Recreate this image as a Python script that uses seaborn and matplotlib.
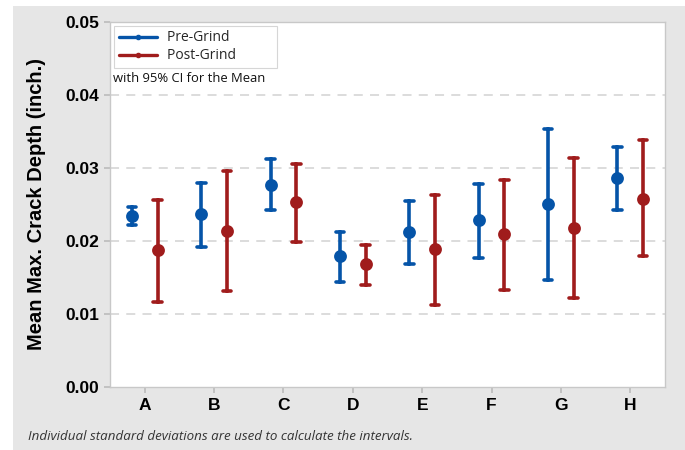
import matplotlib
matplotlib.use("Agg")
import matplotlib.pyplot as plt
from matplotlib.lines import Line2D
from matplotlib.patches import Rectangle
import seaborn as sns
import pandas as pd

categories = ["A", "B", "C", "D", "E", "F", "G", "H"]
pre_mean = [0.0234, 0.0237, 0.0277, 0.0179, 0.0213, 0.0229, 0.0251, 0.0286]
pre_low = [0.0222, 0.0192, 0.0243, 0.0144, 0.0169, 0.0177, 0.0146, 0.0242]
pre_high = [0.0246, 0.0279, 0.0312, 0.0212, 0.0255, 0.0278, 0.0353, 0.0329]
post_mean = [0.0188, 0.0214, 0.0254, 0.0168, 0.0189, 0.0209, 0.0218, 0.0258]
post_low = [0.0117, 0.0131, 0.0198, 0.0140, 0.0113, 0.0133, 0.0122, 0.0179]
post_high = [0.0256, 0.0296, 0.0306, 0.0195, 0.0263, 0.0284, 0.0314, 0.0338]
groups = ["Pre-Grind", "Post-Grind"]
yticks = [0.00, 0.01, 0.02, 0.03, 0.04, 0.05]

blue = "#0554a8"
red = "#a01c1c"

rows = []
for i, c in enumerate(categories):
    for v in (pre_low[i], pre_mean[i], pre_high[i]):
        rows.append({"cat": c, "grp": groups[0], "val": v})
    for v in (post_low[i], post_mean[i], post_high[i]):
        rows.append({"cat": c, "grp": groups[1], "val": v})
df = pd.DataFrame(rows)

sns.set_theme(style="white")
plt.rcParams["font.family"] = ["Liberation Sans", "DejaVu Sans"]

fig = plt.figure(figsize=(6.85, 4.5), dpi=100, facecolor="white")
fig.patches.append(Rectangle((13 / 685, 0), 1 - 13 / 685, 444 / 450,
                             transform=fig.transFigure, facecolor="#e6e6e6",
                             edgecolor="none", zorder=-10))
ax = fig.add_axes([110 / 685, 1 - 387 / 450, 555 / 685, 365 / 450])
ax.set_facecolor("white")

sns.pointplot(data=df, x="cat", y="val", hue="grp", order=categories,
              hue_order=groups, palette=[blue, red], estimator="median",
              errorbar=("pi", 100), dodge=0.37, linestyle="none",
              markers="o", markersize=7.2, err_kws={"linewidth": 2.6},
              capsize=0.125, legend=False, ax=ax)

ax.set_xlim(-0.5, 7.5)
ax.set_ylim(0, 0.05)
ax.set_yticks(yticks)
ax.set_yticklabels([f"{t:.2f}" for t in yticks])
for t in yticks[1:]:
    ax.axhline(t, color="#d9d9d9", linestyle=(0, (5, 4)), linewidth=1.3, zorder=0)
ax.set_xlabel("")
ax.set_ylabel("Mean Max. Crack Depth (inch.)", fontsize=14.5, fontweight="bold",
              color="black", labelpad=14)
ax.tick_params(axis="both", labelsize=12.5, length=4, color="#bdbdbd", pad=4,
               left=True, bottom=True)
for lab in ax.get_xticklabels() + ax.get_yticklabels():
    lab.set_fontweight("bold")
    lab.set_color("black")
for s in ax.spines.values():
    s.set_color("#c8c8c8")
    s.set_linewidth(1.0)

handles = [Line2D([0], [0], color=blue, lw=2.4, marker="o", markersize=3),
           Line2D([0], [0], color=red, lw=2.4, marker="o", markersize=3)]
labels = [g + "          " for g in groups]
leg = ax.legend(handles, labels, loc="upper left", bbox_to_anchor=(0.003, 0.996),
                frameon=True, fancybox=False, edgecolor="#cccccc",
                prop={"family": ["Open Sans", "DejaVu Sans"], "size": 10},
                handlelength=2.8, borderpad=0.3, labelspacing=0.22,
                handletextpad=0.7, borderaxespad=0.2)
leg.get_frame().set_linewidth(0.8)
ax.text(0.006, 0.846, "with 95% CI for the Mean", transform=ax.transAxes,
        fontsize=9.4, family=["Open Sans", "DejaVu Sans"], color="#111111",
        va="center", ha="left")

fig.text(28 / 685, 1 - 437 / 450,
         "Individual standard deviations are used to calculate the intervals.",
         fontsize=9.6, style="italic", family=["Open Sans", "DejaVu Sans"],
         color="#333333", va="center", ha="left")

fig.savefig("out.png", dpi=100, facecolor=fig.get_facecolor())
